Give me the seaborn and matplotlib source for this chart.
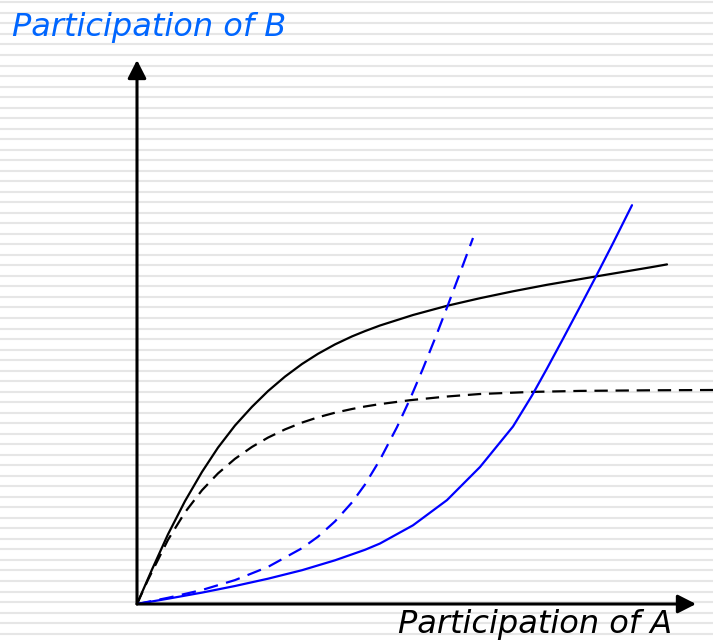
import numpy as np
import matplotlib
matplotlib.use("Agg")
import matplotlib.pyplot as plt
import seaborn as sns

sns.set_style("white")
plt.rcParams["font.family"] = ["DejaVu Sans"]

# curves: x = participation of A, y = participation of B
black_solid_x = [0, 15, 31, 48, 65, 81, 98, 115, 131, 148, 165, 181, 198, 215, 228, 243, 276, 310, 343, 376, 410, 458, 513, 530]
black_solid_y = [0, 34.5, 69.7, 102.9, 132.1, 156.4, 178.5, 197.2, 212.9, 227.4, 240, 250.2, 259.6,
                 267.6, 272.9, 278.5, 289, 298.2, 305.8, 312.7, 319.2, 327.4, 336.6, 339.6]

black_dash_x = [0, 11, 31, 48, 65, 81, 98, 115, 131, 148, 165, 181, 198, 215, 228, 243, 273, 310, 343, 395, 443, 513, 576]
black_dash_y = [0, 24.2, 64.2, 91.7, 113.8, 130.6, 145.2, 157.1, 166.4, 174.6, 181.4, 186.7, 191.3,
                195, 197.5, 199.9, 203.8, 207.5, 210, 212.1, 213.1, 213.7, 214]

blue_dash_x = [0, 31, 65, 98, 131, 165, 181, 198, 215, 228, 243, 260, 273, 286, 300, 310, 323, 336]
blue_dash_y = [0, 6.2, 14, 23.9, 37.1, 55.8, 67.3, 82.6, 101.6, 119.5, 144.3, 176.9, 204.9,
               235.5, 270.5, 296.5, 331, 366]

blue_solid_x = [0, 31, 65, 98, 131, 165, 198, 228, 243, 276, 310, 343, 376, 395, 410, 426, 443, 458, 476, 495]
blue_solid_y = [0, 5.3, 11.4, 18, 25.3, 33.8, 43.7, 54.2, 60.5, 78.7, 103.9, 137, 177.5, 208.5,
                235.5, 265.2, 297.2, 325.7, 360.8, 398.8]

x_label = "Participation of A"
y_label = "Participation of B"

W, H = 713, 642
fig = plt.figure(figsize=(W / 100, H / 100), dpi=100)

# striped slide background
bg = fig.add_axes([0, 0, 1, 1], zorder=0)
bg.set_xlim(0, W)
bg.set_ylim(H, 0)
for yy in np.arange(2.4, H, 10.52):
    bg.axhline(yy, color="#e6e6e6", lw=1.5)
bg.axis("off")

# main axes, origin placed at pixel (137, 604)
ax = fig.add_axes([0, 0, 1, 1], zorder=1)
ax.patch.set_alpha(0)
ax.set_xlim(-137, W - 137)
ax.set_ylim(-(H - 604), 604)
ax.axis("off")

arrow = dict(arrowstyle="-|>,head_length=0.55,head_width=0.28", color="black",
             lw=2.2, shrinkA=0, shrinkB=0, mutation_scale=20)
ax.annotate("", xy=(0, 544), xytext=(0, 0), arrowprops=arrow)
ax.annotate("", xy=(559, 0), xytext=(0, 0), arrowprops=arrow)

sns.lineplot(x=black_solid_x, y=black_solid_y, sort=False, estimator=None,
             color="black", lw=1.6, ax=ax)
sns.lineplot(x=black_dash_x, y=black_dash_y, sort=False, estimator=None,
             color="black", lw=1.6, linestyle=(0, (6, 3.5)), ax=ax)
sns.lineplot(x=blue_dash_x, y=blue_dash_y, sort=False, estimator=None,
             color="#0000ff", lw=1.6, linestyle=(0, (6.5, 3.8)), ax=ax)
sns.lineplot(x=blue_solid_x, y=blue_solid_y, sort=False, estimator=None,
             color="#0000ff", lw=1.6, ax=ax)

fig.text(12 / W, 1 - 36 / H, y_label, color="#0066ff", fontsize=23,
         style="italic", ha="left", va="baseline")
fig.text(398 / W, 1 - 633 / H, x_label, color="black", fontsize=23,
         style="italic", ha="left", va="baseline")

fig.savefig("out.png", dpi=100)
